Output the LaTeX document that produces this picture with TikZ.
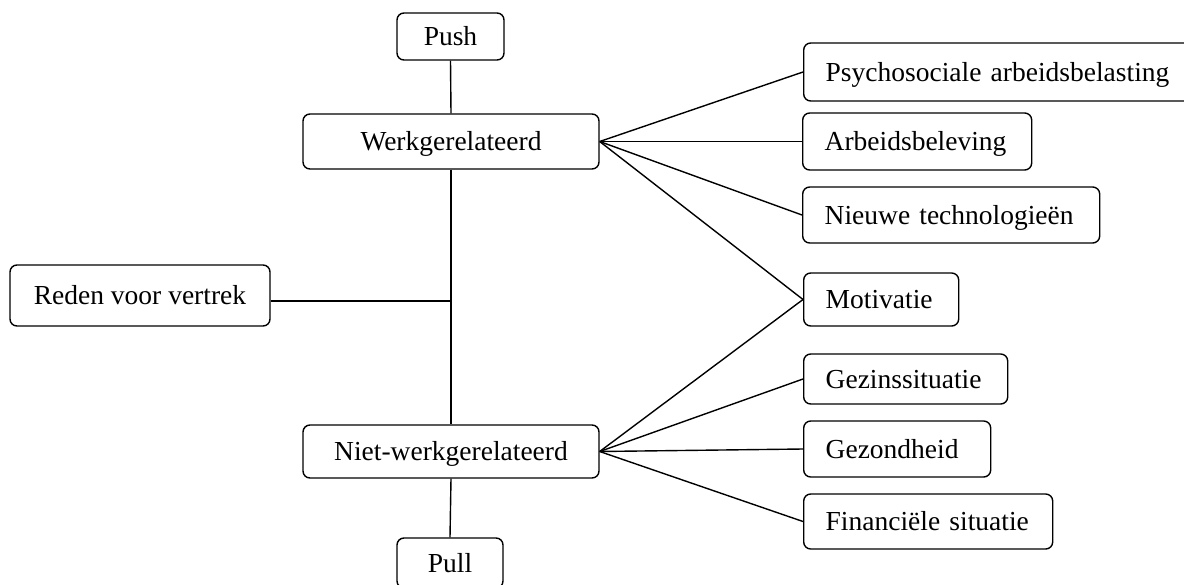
\documentclass[tikz,border=0pt]{standalone}
\usepackage{fontspec}
\setmainfont{Liberation Serif}
\begin{document}
\begin{tikzpicture}[x=0.5pt,y=-0.5pt,
  box/.style={draw, line width=0.7pt, rounded corners=3.5pt, inner sep=0pt,
    text height=12pt, text depth=3pt,
    font=\fontsize{13.75}{16}\selectfont},
  rbox/.style={box, anchor=west, align=left, inner xsep=11pt, text width=#1-22pt, minimum width=#1},
  link/.style={line width=0.7pt}]
\useasboundingbox (0,0) rectangle (1184,584);
% left column
\node[box, minimum width=53.5pt, minimum height=23.5pt] (push) at (450.5,36.5) {Push};
\node[box, minimum width=148pt, minimum height=27.5pt] (werk) at (451,141.5) {Werkgerelateerd};
\node[box, minimum width=130pt, minimum height=30.5pt] (reden) at (140,295.5) {Reden voor vertrek};
\node[box, minimum width=148pt, minimum height=26.5pt] (niet) at (451,451.5) {Niet-werkgerelateerd};
\node[box, minimum width=53pt, minimum height=25pt] (pull) at (450,563) {Pull};
% right column
\node[rbox=200pt, minimum height=29pt] (psy) at (803,72) {Psychosociale arbeidsbelasting};
\node[rbox=114.5pt, minimum height=28.5pt] (arb) at (802,141.5) {Arbeidsbeleving};
\node[rbox=148.5pt, minimum height=28pt] (nieuw) at (802,215) {Nieuwe technologieën};
\node[rbox=77.5pt, minimum height=26.5pt] (mot) at (803,299.5) {Motivatie};
\node[rbox=102pt, minimum height=25pt] (gez) at (803,379) {Gezinssituatie};
\node[rbox=93.5pt, minimum height=28pt] (gzh) at (803,449) {Gezondheid};
\node[rbox=124.5pt, minimum height=27.5pt] (fin) at (803,521.5) {Financiële situatie};
% connectors
\coordinate (j) at (werk.south |- 0,301);
\draw[link] (push.south) -- (werk.north);
\draw[link] (werk.south) -- (niet.north);
\draw[link] (reden.east |- j) -- (j);
\draw[link] (niet.south) -- (pull.north);
\foreach \t in {psy,arb,nieuw,mot} \draw[link] (werk.east) -- (\t.west);
\foreach \t in {mot,gez,gzh,fin} \draw[link] (niet.east) -- (\t.west);
\end{tikzpicture}
\end{document}
